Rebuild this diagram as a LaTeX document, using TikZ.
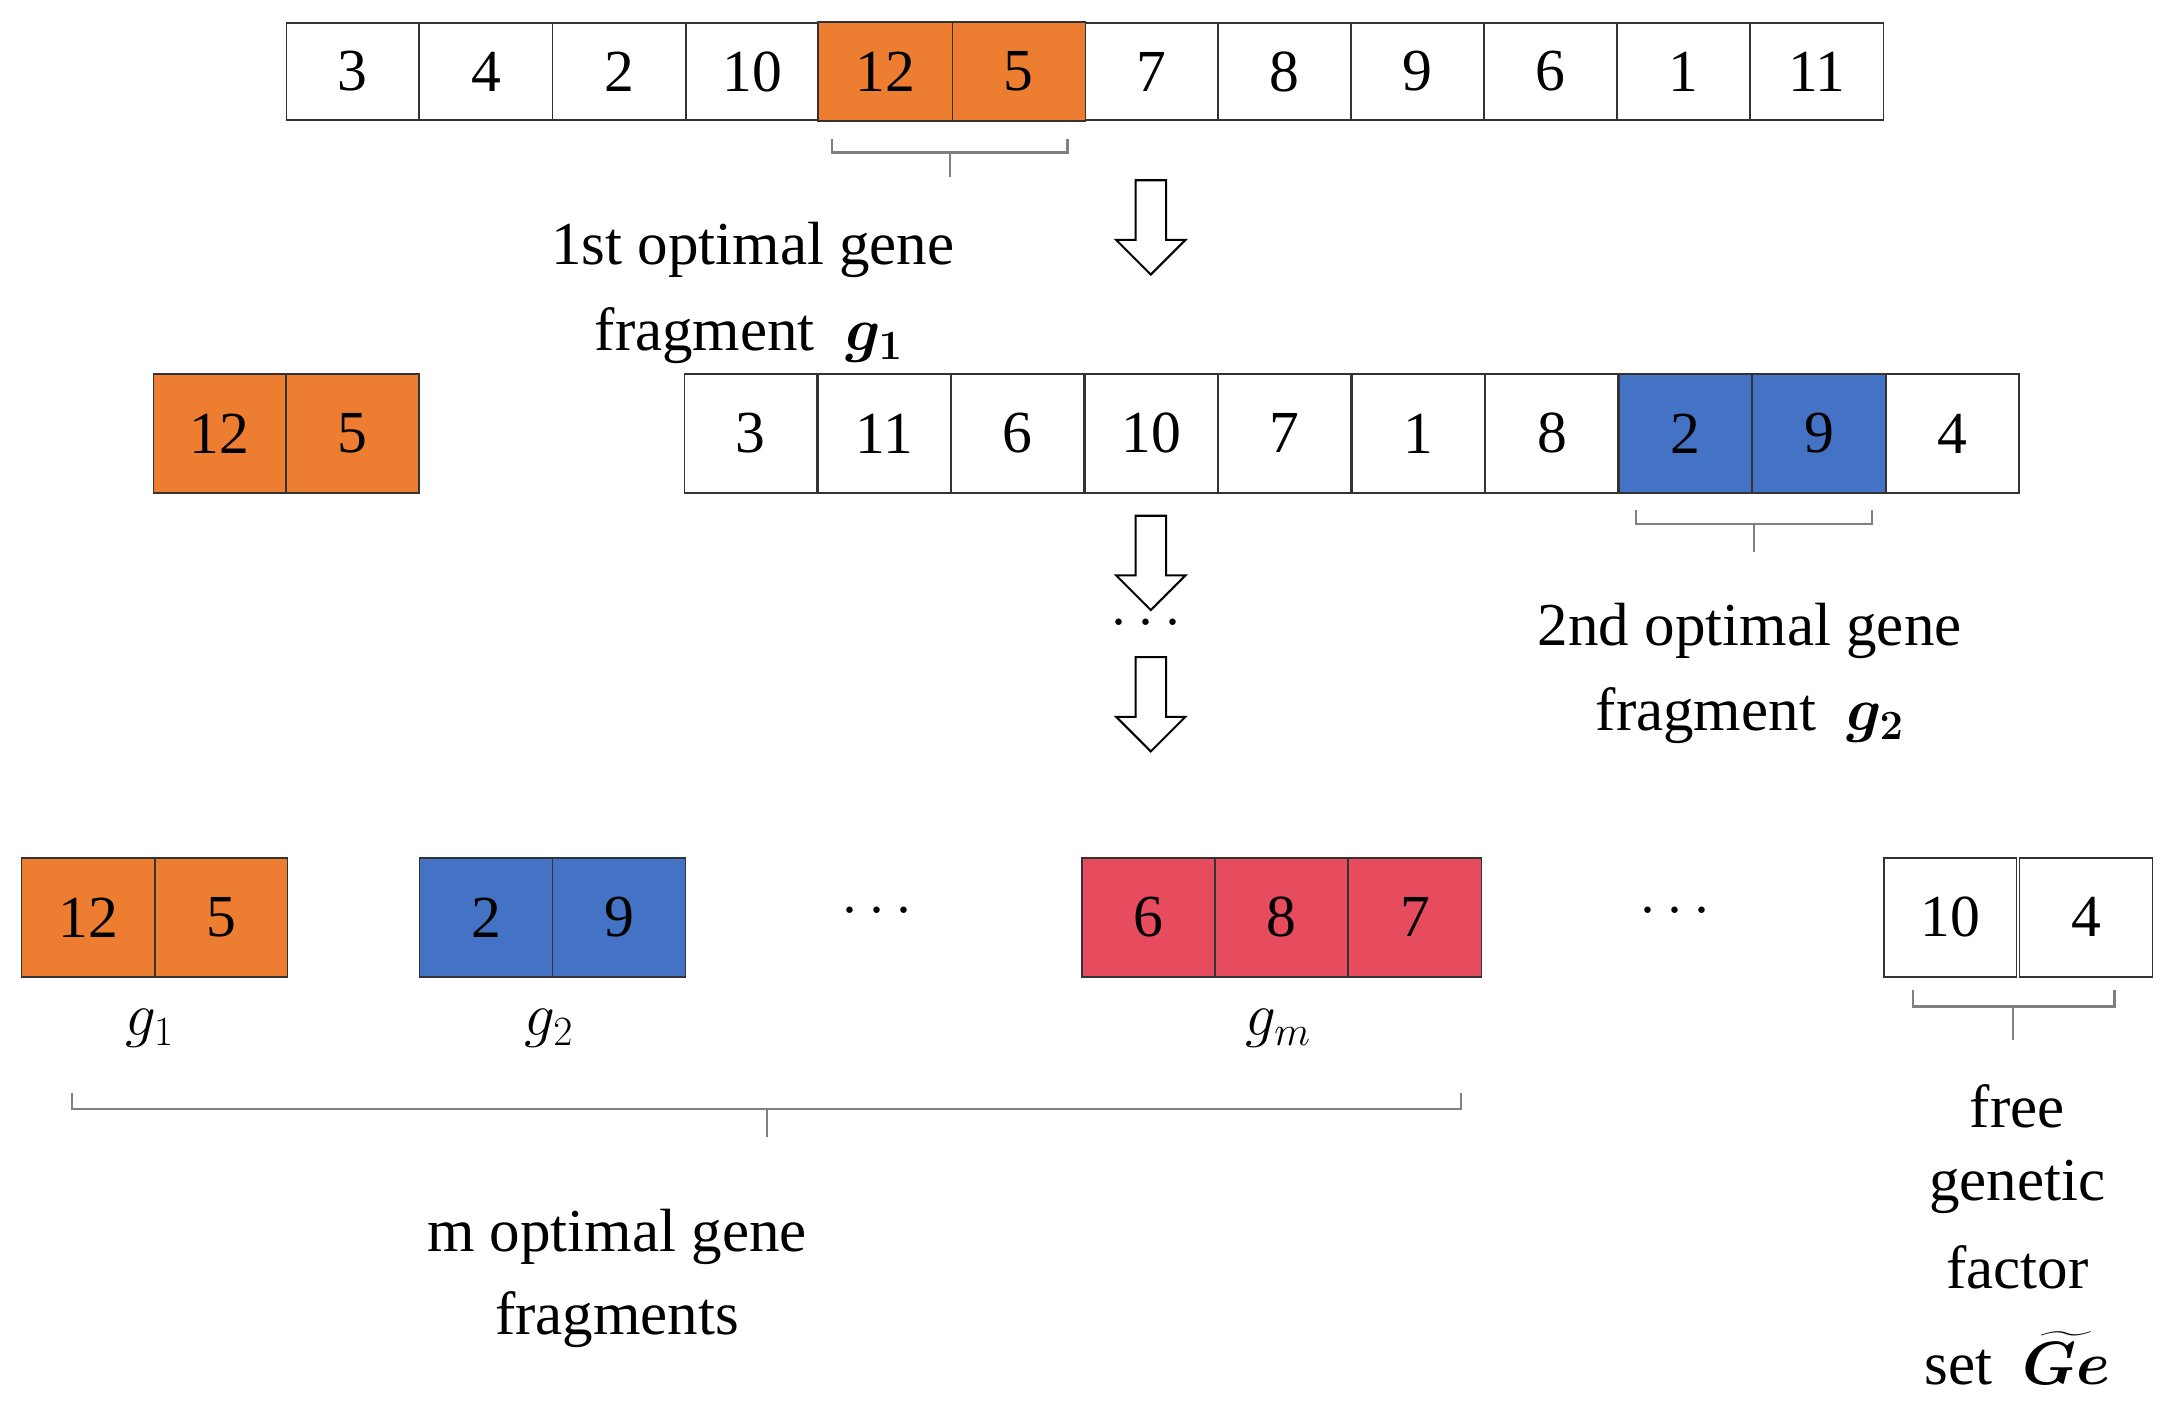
\RequirePackage{fix-cm}
\documentclass[tikz,border=0pt]{standalone}
\usepackage{fontspec}
\setmainfont{Liberation Serif}
\usepackage{amsmath,bm}
\DeclareMathSizes{44}{44}{30}{22}
\definecolor{org}{HTML}{ED7D31}
\definecolor{blu}{HTML}{4472C4}
\definecolor{rd}{HTML}{E64C5E}
\definecolor{brk}{HTML}{808080}
\begin{document}
\begin{tikzpicture}[x=1pt,y=-1pt,
  cell/.style={draw=black!80,line width=1.2pt,minimum width=95.8pt,minimum height=70pt,inner sep=0pt,anchor=north west,font=\fontsize{43}{48}\selectfont},
  cell2/.style={cell,minimum height=86pt},
  lab/.style={font=\fontsize{44}{50}\selectfont,inner sep=0pt},
  brace/.style={draw=brk,line width=1.6pt},
  harrow/.style={draw=black,line width=1.5pt,fill=white}]
\useasboundingbox (0,0) rectangle (1568,1017);
% row 1
\foreach \v [count=\i from 0] in {3,4,2,10,12,5,7,8,9,6,1,11}{
  \node[cell] (a\i) at ({206+96*\i},16) {\v};}
\fill[org] (a4.north west) rectangle (a5.south east);
\draw[black!80,line width=1.2pt] (a4.north west) rectangle (a5.south east) (a4.north east)--(a4.south east);
\node[lab,font=\fontsize{43}{48}\selectfont] at (a4) {12}; \node[lab,font=\fontsize{43}{48}\selectfont] at (a5) {5};
% row 2 left
\node[cell2,fill=org] (b0) at (110,269) {12};
\node[cell2,fill=org] (b1) at (206,269) {5};
% row 2 main
\foreach \v [count=\i from 0] in {3,11,6,10,7,1,8,2,9,4}{
  \ifnum\i=7 \def\f{blu}\else\ifnum\i=8 \def\f{blu}\else\def\f{white}\fi\fi
  \node[cell2,fill=\f] (c\i) at ({493+96.3*\i},269) {\v};}
% row 3
\node[cell2,fill=org] (d0) at (15,618) {12};
\node[cell2,fill=org] (d1) at (111,618) {5};
\node[cell2,fill=blu] (e0) at (302,618) {2};
\node[cell2,fill=blu] (e1) at (398,618) {9};
\node[cell2,fill=rd] (f0) at (780,618) {6};
\node[cell2,fill=rd] (f1) at (876,618) {8};
\node[cell2,fill=rd] (f2) at (972,618) {7};
\node[cell2] (h0) at (1358,618) {10};
\node[cell2] (h1) at (1456,618) {4};
% braces
\draw[brace] (600,100)--(600,110)--(770,110)--(770,100) (685,110)--(685,128);
\draw[brace] (1180,368)--(1180,378)--(1350,378)--(1350,368) (1265,378)--(1265,398);
\draw[brace] (1380,714)--(1380,726)--(1525,726)--(1525,714) (1452,726)--(1452,750);
\draw[brace] (52,788)--(52,800)--(1054,800)--(1054,788) (553,800)--(553,820);
% arrows
\foreach \t in {130,372,474}{
  \draw[harrow] (819,\t)--(841,\t)--(841,\t+43)--(855,\t+43)--(830,\t+68)--(805,\t+43)--(819,\t+43)--cycle;}
% dots
\node[lab] (dt1) at (830,450) {$\cdots$};
\node[lab] (dt2) at (636,658) {$\cdots$};
\node[lab] (dt3) at (1212,658) {$\cdots$};
% labels
\node[lab] (l1) at (543,180) {1st optimal gene};
\node[lab] (l2) at (540,242) {fragment\ \ $\bm{g_1}$};
\node[lab] (l3) at (1262,455) {2nd optimal gene};
\node[lab] (l4) at (1262,516) {fragment\ \ $\bm{g_2}$};
\node[lab] (g1) at (108,742) {$g_1$};
\node[lab] (g2) at (396,742) {$g_2$};
\node[lab] (gm) at (922,742) {$g_m$};
\node[lab] (m1) at (445,892) {m optimal gene};
\node[lab] (m2) at (445,952) {fragments};
\node[lab] (r1) at (1455,798) {free};
\node[lab] (r2) at (1455,856) {genetic};
\node[lab] (r3) at (1455,914) {factor};
\node[lab] (r4) at (1455,980) {set\ \ $\widetilde{\bm{Ge}}$};
\end{tikzpicture}
\end{document}
